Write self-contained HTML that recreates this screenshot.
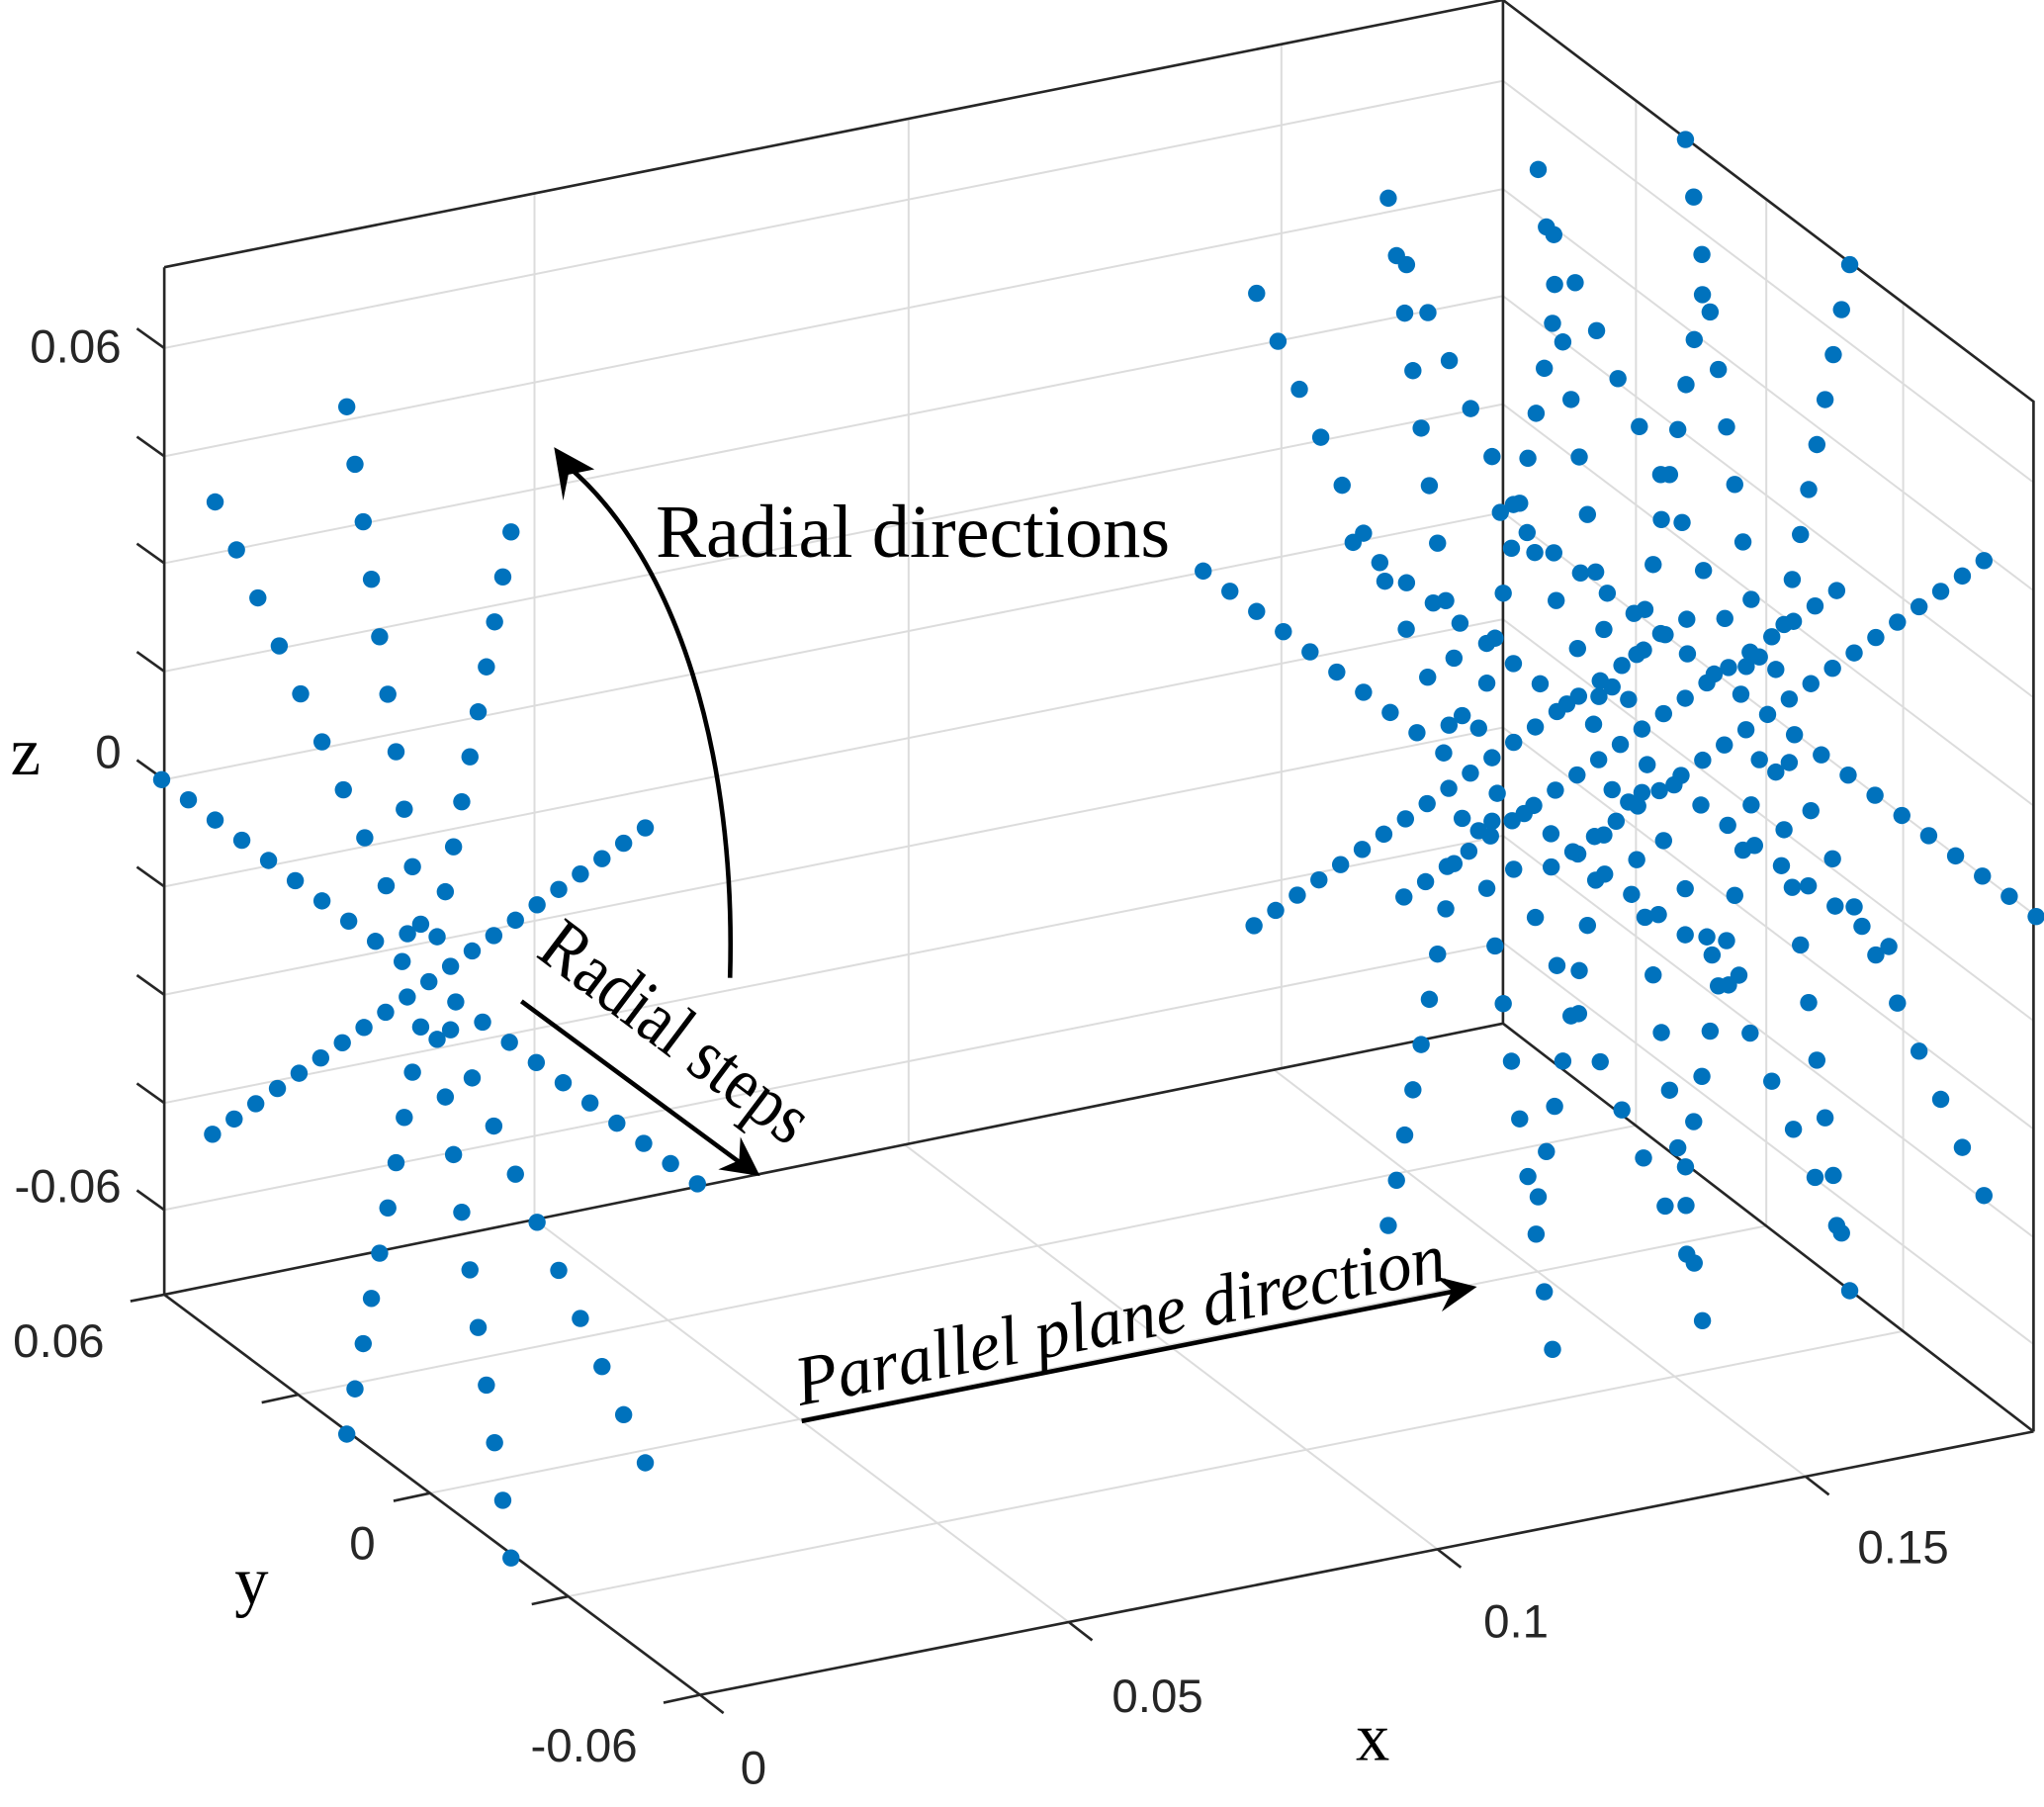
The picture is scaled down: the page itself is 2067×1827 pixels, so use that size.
<!DOCTYPE html>
<html><head><meta charset="utf-8"><style>html,body{margin:0;padding:0;background:#fff}svg{display:block}</style></head>
<body>
<svg id="s" width="2067" height="1827" viewBox="0 0 1568 1386" xmlns="http://www.w3.org/2000/svg">
<g id="grid" stroke="#dcdcdc" stroke-width="1.5" fill="none"></g>
<g id="box" stroke="#262626" stroke-width="2" fill="none">
<path d="M126,205 V993 M126,205 L1153,0 V785 M1153,0 L1560,308 V1098 M126,993 L1153,785 L1560,1098 M537,1300 L1560,1098 M126,993 L537,1300 M100,998 L126,993"/>
</g>
<g id="pts" fill="#0072BD"></g>
<g font-family="Liberation Sans, Arial, sans-serif" font-size="36" fill="#262626">
<text x="93" y="278" text-anchor="end">0.06</text>
<text x="93" y="589" text-anchor="end">0</text>
<text x="93" y="922" text-anchor="end">-0.06</text>
<text x="45" y="1041" text-anchor="middle">0.06</text>
<text x="278" y="1196" text-anchor="middle">0</text>
<text x="448" y="1351" text-anchor="middle">-0.06</text>
<text x="578" y="1368" text-anchor="middle">0</text>
<text x="888" y="1313" text-anchor="middle">0.05</text>
<text x="1163" y="1256" text-anchor="middle">0.1</text>
<text x="1460" y="1199" text-anchor="middle">0.15</text>
</g>
<g font-family="Liberation Serif, serif" font-size="52" fill="#000">
<text x="8" y="594">z</text>
<text x="180" y="1230">y</text>
<text x="1040" y="1350">x</text>
<text x="503" y="427" font-size="58">Radial directions</text>
<text transform="translate(410,733) rotate(37) scale(0.88,1)" font-size="57">Radial steps</text>
<text transform="translate(614,1078) rotate(-11) scale(0.98,1)" font-size="54" font-style="italic">Parallel plane direction</text>
</g>
<g stroke="#000" stroke-width="3.5" fill="none">
<path d="M560,750 C565,580 520,430 436,358"/>
<path d="M400,768 L568,892"/>
<path d="M615,1090 L1118,990"/>
</g>
<g fill="#000">
<polygon points="425,343 456,360 436,364 432,384"/>
<polygon points="583,902 551,897 567,890 568,872"/>
<polygon points="1133,987 1106,1006 1114,990 1101,979"/>
</g>
</svg>
<script>
var ns="http://www.w3.org/2000/svg";
function L(g,x1,y1,x2,y2){var l=document.createElementNS(ns,"line");l.setAttribute("x1",x1);l.setAttribute("y1",y1);l.setAttribute("x2",x2);l.setAttribute("y2",y2);g.appendChild(l);}
var g=document.getElementById("grid"),b=document.getElementById("box");
[267,350,432,515,598,680,763,846,928].forEach(function(y){L(g,126,y,1153,y-205);L(g,1153,y-205,1560,y+103);L(b,126,y,105,y-15);});
[410,697,983].forEach(function(x){L(g,x,205-0.1996*(x-126),x,993-0.2025*(x-126));});
[1255,1355,1460].forEach(function(x){L(g,x,0.757*(x-1153),x,785+0.769*(x-1153));});
[0.2765,0.553,0.829].forEach(function(f){var bx=126+1027*f,by=993-208*f,fx=537+1023*f,fy=1300-202*f;L(g,bx,by,fx,fy);L(b,fx,fy,fx+18,fy+14);});
L(b,537,1300,555,1314);
[0.25,0.496,0.754,1].forEach(function(f){var ax=126+411*f,ay=993+307*f,cx=1153+407*f,cy=785+313*f;if(f<1)L(g,ax,ay,cx,cy);L(b,ax,ay,ax-28,ay+6);});
var p=document.getElementById("pts");
var ends=[[-63,-441],[63,442],[-205,-155],[206,155],[-164,-368],[166,369],[63,-345],[-63,347],[-166,117],[166,-118]];
var offs=[[0,0],[799,-160],[914,-182],[1027,-205]];
offs.forEach(function(o){var cx=329+o[0],cy=753+o[1];
 function C(x,y){var c=document.createElementNS(ns,"circle");c.setAttribute("cx",x.toFixed(1));c.setAttribute("cy",y.toFixed(1));c.setAttribute("r","6.6");p.appendChild(c);}
 C(cx,cy);
 ends.forEach(function(e){for(var k=1;k<=10;k++){C(cx+e[0]*k/10,cy+e[1]*k/10);}});
});
</script>
</body></html>
